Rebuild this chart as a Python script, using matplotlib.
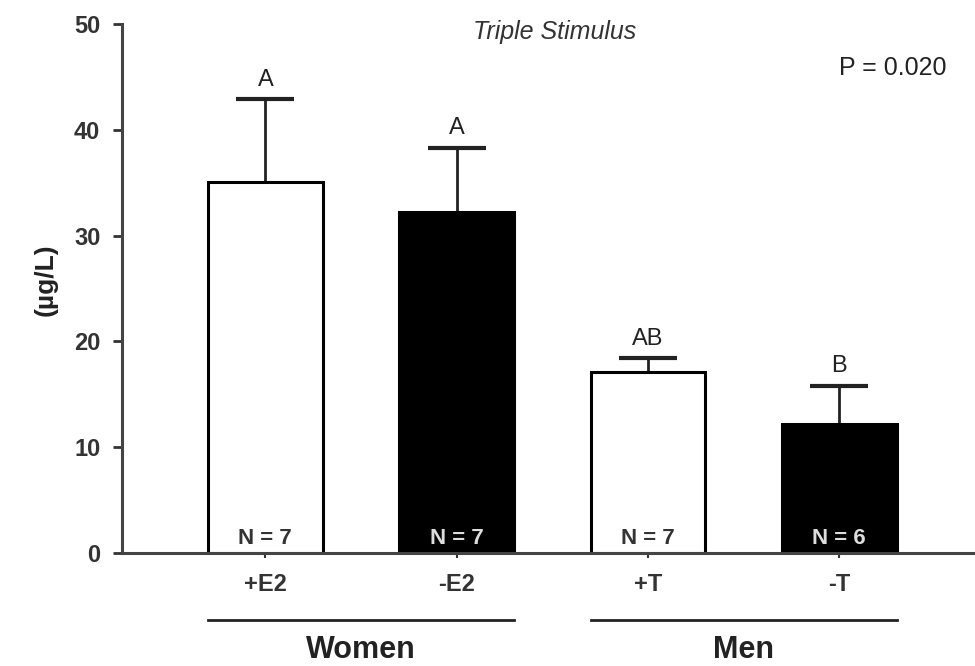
import numpy as np
import matplotlib
matplotlib.use("Agg")
import matplotlib.pyplot as plt
import matplotlib.transforms as mtransforms

plt.rcParams['font.family'] = ['Liberation Sans', 'DejaVu Sans']

# data
conditions = ["+E2", "-E2", "+T", "-T"]
means = [35.1, 32.2, 17.1, 12.2]
sem = [7.8, 6.1, 1.3, 3.6]
n_labels = ["N = 7", "N = 7", "N = 7", "N = 6"]
letters = ["A", "A", "AB", "B"]
filled = [False, True, False, True]
groups = ["Women", "Men"]
group_members = [[0, 1], [2, 3]]

fig = plt.figure(figsize=(9.75, 6.66), dpi=100)
ax = fig.add_axes([0.125, 0.1697, 0.875, 0.7943])

x = np.arange(len(conditions))
bar_w = 0.6
colors = ['black' if f else 'white' for f in filled]
ax.bar(x, means, width=bar_w, color=colors, edgecolor='black', linewidth=2.2, zorder=2)
_, caps, _ = ax.errorbar(x, means, yerr=[np.zeros(len(sem)), sem], fmt='none', ecolor='#222222',
                         elinewidth=2, capsize=21, capthick=3, zorder=1)
caps[0].set_visible(False)  # only the upper cap

for i in range(len(conditions)):
    top = means[i] + sem[i]
    ax.annotate(letters[i], (x[i], top), xytext=(0, 6), textcoords='offset points',
                ha='center', va='bottom', fontsize=17, color='#222222')
    ax.annotate(n_labels[i], (x[i], 0), xytext=(0, 3), textcoords='offset points',
                ha='center', va='bottom', fontsize=16, fontweight='bold',
                color='#dddddd' if filled[i] else '#333333')

ax.set_xlim(-0.75, 3.71)
ax.set_ylim(0, 50)
ax.set_yticks([0, 10, 20, 30, 40, 50])
ax.set_xticks(x)
ax.set_xticklabels(conditions)
ax.tick_params(axis='y', length=6.5, width=2, pad=9, labelsize=17, colors='#333333')
ax.tick_params(axis='x', length=3.5, width=1.5, pad=11, labelsize=17, colors='#333333')
for lab in ax.get_yticklabels() + ax.get_xticklabels():
    lab.set_fontweight('bold')

for side in ['top', 'right']:
    ax.spines[side].set_visible(False)
for side in ['left', 'bottom']:
    ax.spines[side].set_linewidth(2.2)
    ax.spines[side].set_color('#444444')

ax.set_ylabel("(µg/L)", fontsize=19, fontweight='bold', color='#222222')
ax.yaxis.set_label_coords(-0.075, 0.516)

# group brackets under the tick labels
trans = mtransforms.blended_transform_factory(ax.transData, ax.transAxes)
for name, members in zip(groups, group_members):
    left = x[members[0]] - bar_w / 2
    right = x[members[-1]] + bar_w / 2
    ax.plot([left, right], [-0.127, -0.127], color='#222222', linewidth=2,
            transform=trans, clip_on=False)
    ax.text((left + right) / 2, -0.183, name, transform=trans, ha='center', va='center',
            fontsize=22, fontweight='bold', color='#222222')

fig.text(555 / 975, 1 - 32 / 666, "Triple Stimulus", ha='center', va='center',
         fontsize=18, style='italic', color='#333333')
fig.text(893 / 975, 1 - 68 / 666, "P = 0.020", ha='center', va='center',
         fontsize=18, color='#222222')

fig.savefig("out.png", dpi=100)
